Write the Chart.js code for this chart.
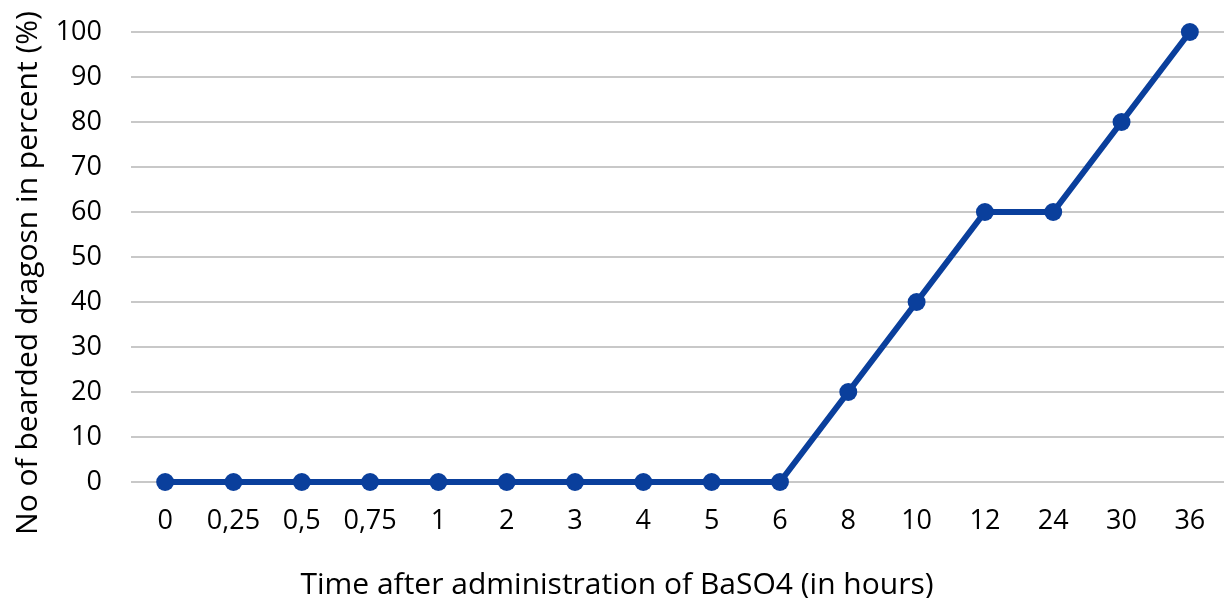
<!DOCTYPE html>
<html><head><meta charset="utf-8">
<script src="https://cdn.jsdelivr.net/npm/chart.js"></script>
<style>html,body{margin:0;padding:0;background:#fff}#wrap{width:1228px;height:598px}</style>
</head><body><div id="wrap"><canvas id="c" width="1228" height="598"></canvas></div>
<script>
const categories = ["0","0,25","0,5","0,75","1","2","3","4","5","6","8","10","12","24","30","36"];
const values = [0,0,0,0,0,0,0,0,0,0,20,40,60,60,80,100];
const yTicks = [0,10,20,30,40,50,60,70,80,90,100];
const xTitle = 'Time after administration of BaSO4 (in hours)';
const yTitle = 'No of bearded dragosn in percent (%)';
const font = "'Open Sans', 'Noto Sans', sans-serif";

const titlePlugin = {
  id: 'titles',
  afterDraw(chart) {
    const ctx = chart.ctx;
    ctx.save();
    ctx.fillStyle = '#000';
    ctx.font = "30px " + font;
    ctx.textAlign = 'center';
    ctx.textBaseline = 'alphabetic';
    ctx.fillText(xTitle, 617, 594);
    ctx.translate(37, 273);
    ctx.rotate(-Math.PI / 2);
    ctx.fillText(yTitle, 0, 0);
    ctx.restore();
  }
};

new Chart(document.getElementById('c'), {
  type: 'line',
  data: { labels: categories, datasets: [{
    data: values, borderColor: '#0a3f9c', backgroundColor: '#0a3f9c',
    borderWidth: 6, pointRadius: 9, pointHoverRadius: 9, pointBorderWidth: 0, tension: 0, fill: false, clip: false
  }]},
  plugins: [titlePlugin],
  options: {
    responsive: false, animation: false, devicePixelRatio: 1,
    layout: { autoPadding: false, padding: { top: 32, right: 4, left: 0, bottom: 0 } },
    plugins: { legend: { display: false }, tooltip: { enabled: false } },
    scales: {
      x: { offset: true,
        afterFit: s => { s.height = 116; s.paddingLeft = 0; s.paddingRight = 0; },
        grid: { display: false, drawTicks: false }, border: { display: false },
        ticks: { color: '#000', font: { family: font, size: 27 }, padding: 23, maxRotation: 0, autoSkip: false }
      },
      y: { min: 0, max: 100,
        afterFit: s => { s.width = 131; s.paddingTop = 0; s.paddingBottom = 0; },
        afterBuildTicks: ax => { ax.ticks = yTicks.map(v => ({ value: v })); },
        grid: { color: '#c8c8c8', lineWidth: 2, drawTicks: false }, border: { display: false },
        ticks: { color: '#000', font: { family: font, size: 27 }, padding: 29 }
      }
    }
  }
});
</script></body></html>
